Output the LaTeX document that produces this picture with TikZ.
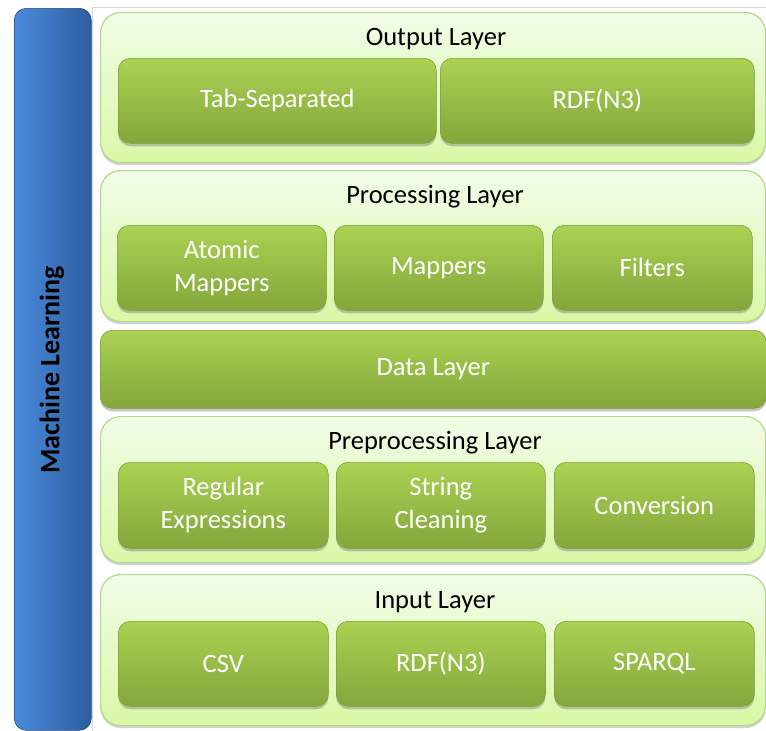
\documentclass[tikz,border=0pt]{standalone}
\usepackage{fontspec}
\setmainfont{Carlito}
\usetikzlibrary{shadows}

\definecolor{layerTop}{HTML}{F2FCE8}
\definecolor{layerBot}{HTML}{D9F8A6}
\definecolor{layerEdge}{HTML}{B4D88A}
\definecolor{boxTop}{HTML}{AAD252}
\definecolor{boxBot}{HTML}{84A63C}
\definecolor{boxEdge}{HTML}{7E9E3A}
\definecolor{barLeft}{HTML}{4A8BDD}
\definecolor{barRight}{HTML}{2C5E9E}
\definecolor{frameGray}{HTML}{D6D6D6}

\tikzset{
  layer/.style={draw=layerEdge, line width=1.2pt, rounded corners=20pt,
    top color=layerTop, bottom color=layerBot, anchor=north west,
    inner sep=0pt, drop shadow={shadow xshift=0pt, shadow yshift=-2.5pt, opacity=0.35}},
  block/.style={draw=boxEdge, line width=0.6pt, rounded corners=12pt,
    top color=boxTop, bottom color=boxBot, anchor=north west,
    inner sep=0pt, text=white, font=\fontsize{26.5}{33}\selectfont, align=center,
    drop shadow={shadow xshift=0pt, shadow yshift=-3pt, opacity=0.45}},
  title/.style={font=\fontsize{26.5}{30}\selectfont, text=black},
  bar/.style={draw=barRight!80!black, line width=0.6pt, rounded corners=12pt,
    left color=barLeft, right color=barRight, anchor=north west, inner sep=0pt},
}

\begin{document}
\begin{tikzpicture}[x=1pt, y=-1pt]
  \useasboundingbox (0,0) rectangle (766,731);
  \fill[white] (0,0) rectangle (766,731);

  % frame around the layer stack
  \draw[frameGray, line width=1pt] (92,731) -- (92,7.5) -- (766,7.5);

  % vertical machine learning bar
  \node[bar, minimum width=77pt, minimum height=722pt] (ml) at (14,8) {};
  \node[rotate=90, font=\fontsize{28}{30}\selectfont\bfseries] (mltext) at (52,370) {Machine Learning};

  % output layer
  \node[layer, minimum width=665pt, minimum height=150pt] (out) at (100,12) {};
  \node[title] (outT) at (436,39) {Output Layer};
  \node[block, minimum width=318pt, minimum height=85pt] (tab) at (118,58) {Tab-Separated};
  \node[block, minimum width=314pt, minimum height=85pt] (rdfo) at (440,58) {RDF(N3)};

  % processing layer
  \node[layer, minimum width=665pt, minimum height=151pt] (proc) at (100,170) {};
  \node[title] (procT) at (435,197) {Processing Layer};
  \node[block, minimum width=209pt, minimum height=85pt] (atom) at (117,225) {Atomic\\Mappers};
  \node[block, minimum width=209pt, minimum height=85pt] (map) at (334,225) {Mappers};
  \node[block, minimum width=200pt, minimum height=85pt] (filt) at (552,225) {Filters};

  % data layer
  \node[block, minimum width=666pt, minimum height=78pt] (data) at (100,330) {Data Layer};

  % preprocessing layer
  \node[layer, minimum width=665pt, minimum height=146pt] (pre) at (100,416) {};
  \node[title] (preT) at (435,443) {Preprocessing Layer};
  \node[block, minimum width=210pt, minimum height=86pt] (regex) at (118,462) {Regular\\Expressions};
  \node[block, minimum width=209pt, minimum height=86pt] (clean) at (336,462) {String\\Cleaning};
  \node[block, minimum width=200pt, minimum height=86pt] (conv) at (554,462) {Conversion};

  % input layer
  \node[layer, minimum width=665pt, minimum height=151pt] (inp) at (100,574) {};
  \node[title] (inpT) at (435,602) {Input Layer};
  \node[block, minimum width=210pt, minimum height=85pt] (csv) at (118,621) {CSV};
  \node[block, minimum width=209pt, minimum height=85pt] (rdfi) at (336,621) {RDF(N3)};
  \node[block, minimum width=200pt, minimum height=85pt] (sparql) at (554,621) {SPARQL};
\end{tikzpicture}
\end{document}
